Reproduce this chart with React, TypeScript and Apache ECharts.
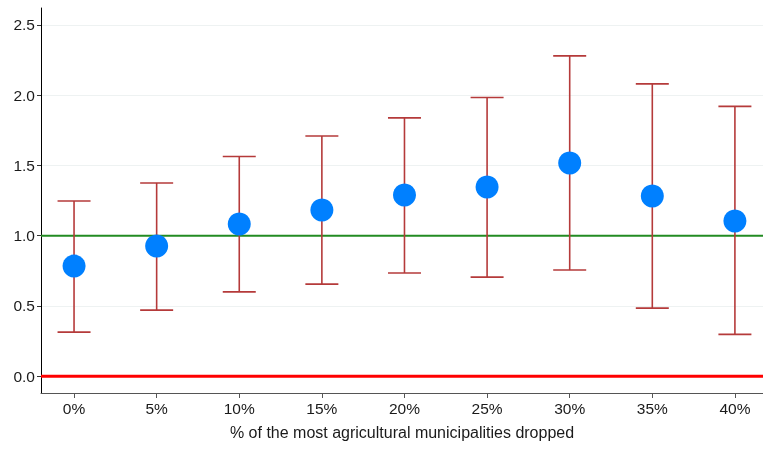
import React, { useEffect, useRef } from "react";
import * as echarts from "echarts";

const categories = ["0%", "5%", "10%", "15%", "20%", "25%", "30%", "35%", "40%"];
const estimates = [0.783, 0.926, 1.083, 1.182, 1.289, 1.346, 1.517, 1.282, 1.104];
const lowerCI = [0.313, 0.47, 0.6, 0.655, 0.734, 0.705, 0.755, 0.484, 0.297];
const upperCI = [1.246, 1.375, 1.563, 1.709, 1.838, 1.983, 2.279, 2.08, 1.92];
const yTicks = [0, 0.5, 1, 1.5, 2, 2.5];
const refLines = [
  { value: 1, color: "#228b22", width: 2 },
  { value: 0, color: "#ff0000", width: 3 },
];
const xLabel = "% of the most agricultural municipalities dropped";

export default function App() {
  const ref = useRef<HTMLDivElement>(null);
  useEffect(() => {
    if (!ref.current) return;
    const chart = echarts.init(ref.current, null, { renderer: "svg", width: 763, height: 449 });
    const idx = categories.map((_, i) => i);
    const font = "'Liberation Sans', Arial, sans-serif";
    const xMin = -0.4;
    const xMax = 8.34;
    chart.setOption({
      animation: false,
      grid: { left: 41, right: 0, top: 8, bottom: 56, outerBoundsMode: "none" },
      xAxis: {
        type: "value",
        min: xMin,
        max: xMax,
        name: xLabel,
        nameLocation: "middle",
        nameGap: 31,
        nameTextStyle: { color: "#1a1a1a", fontSize: 16, fontFamily: font },
        axisLine: { show: true, onZero: false, lineStyle: { color: "#555", width: 1 } },
        axisTick: { show: true, customValues: idx, length: 5, lineStyle: { color: "#555" } },
        axisLabel: {
          customValues: idx,
          formatter: (v: number) => categories[Math.round(v)],
          color: "#1a1a1a",
          fontSize: 15.5,
          fontFamily: font,
          margin: 7,
        },
        splitLine: { show: false },
      },
      yAxis: {
        type: "value",
        min: -0.12,
        max: 2.62,
        axisLine: { show: true, onZero: false, lineStyle: { color: "#000", width: 1 } },
        axisTick: { show: true, customValues: yTicks, length: 4, lineStyle: { color: "#333" } },
        axisLabel: {
          customValues: yTicks,
          formatter: (v: number) => v.toFixed(1),
          color: "#1a1a1a",
          fontSize: 15.5,
          fontFamily: font,
          margin: 6,
        },
        splitLine: { show: true, customValues: yTicks, lineStyle: { color: "#eef2f2", width: 1 } },
      },
      series: [
        ...refLines.map((r) => ({
          type: "line",
          data: [
            [xMin, r.value],
            [xMax, r.value],
          ],
          symbol: "none",
          silent: true,
          clip: false,
          lineStyle: { color: r.color, width: r.width },
          z: 2,
        })),
        {
          type: "custom",
          data: idx.map((i) => [i, lowerCI[i], upperCI[i]]),
          renderItem: (params: any, api: any) => {
            const x = api.value(0);
            const lo = api.coord([x, api.value(1)]);
            const hi = api.coord([x, api.value(2)]);
            const hw = 16.5;
            const style = { stroke: "#b53a3a", lineWidth: 1.6 };
            return {
              type: "group",
              children: [
                { type: "line", shape: { x1: lo[0], y1: lo[1], x2: hi[0], y2: hi[1] }, style },
                { type: "line", shape: { x1: lo[0] - hw, y1: lo[1], x2: lo[0] + hw, y2: lo[1] }, style },
                { type: "line", shape: { x1: hi[0] - hw, y1: hi[1], x2: hi[0] + hw, y2: hi[1] }, style },
              ],
            };
          },
          z: 3,
        },
        {
          type: "scatter",
          data: idx.map((i) => [i, estimates[i]]),
          symbol: "circle",
          symbolSize: 23,
          itemStyle: { color: "#0080ff", opacity: 1 },
          z: 5,
        },
      ],
    });
    return () => chart.dispose();
  }, []);
  return (
    <div
      ref={ref}
      style={{ position: "fixed", left: 0, top: 0, width: 763, height: 449 }}
    />
  );
}
